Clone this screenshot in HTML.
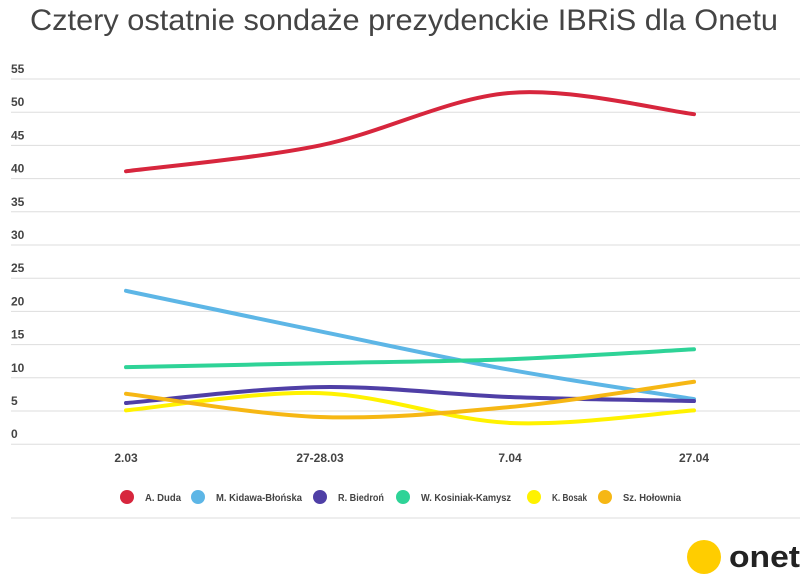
<!DOCTYPE html>
<html><head><meta charset="utf-8"><style>
body{margin:0;width:805px;height:579px;background:#fff;overflow:hidden;font-family:"Liberation Sans",sans-serif}
</style></head><body>
<svg id="s" width="805" height="579" xmlns="http://www.w3.org/2000/svg" font-family="Liberation Sans, sans-serif">
<text x="30" y="30" textLength="748" lengthAdjust="spacingAndGlyphs" font-size="30" fill="#444">Cztery ostatnie sondaże prezydenckie IBRiS dla Onetu</text>
<g id="grid"></g>
<g font-size="12" font-weight="bold" fill="#444" text-anchor="middle">
<text x="126" y="462">2.03</text><text x="320" y="462">27-28.03</text><text x="510" y="462">7.04</text><text x="694" y="462">27.04</text>
</g>
<g id="lines" fill="none" stroke-width="4" stroke-linecap="round"></g>
<line x1="11" y1="518" x2="800" y2="518" stroke="#ddd" stroke-width="1"/>
<g font-size="10" font-weight="bold" fill="#444">
<circle cx="127" cy="497" r="7" fill="#d7263d"/><text x="145" y="501" textLength="36" lengthAdjust="spacingAndGlyphs">A. Duda</text>
<circle cx="198" cy="497" r="7" fill="#5db6e6"/><text x="216" y="501" textLength="86" lengthAdjust="spacingAndGlyphs">M. Kidawa-Błońska</text>
<circle cx="320" cy="497" r="7" fill="#4f3fa6"/><text x="338" y="501" textLength="46" lengthAdjust="spacingAndGlyphs">R. Biedroń</text>
<circle cx="403" cy="497" r="7" fill="#2ed397"/><text x="421" y="501" textLength="90" lengthAdjust="spacingAndGlyphs">W. Kosiniak-Kamysz</text>
<circle cx="534" cy="497" r="7" fill="#fff200"/><text x="552" y="501" textLength="35" lengthAdjust="spacingAndGlyphs">K. Bosak</text>
<circle cx="605" cy="497" r="7" fill="#f6b714"/><text x="623" y="501" textLength="58" lengthAdjust="spacingAndGlyphs">Sz. Hołownia</text>
</g>
<circle cx="704" cy="557" r="17" fill="#ffcd00"/>
<text x="729" y="567" textLength="71" lengthAdjust="spacingAndGlyphs" font-size="31" font-weight="bold" fill="#222">onet</text>
</svg>
<script>
var ns="http://www.w3.org/2000/svg",g=document.getElementById("grid"),L=document.getElementById("lines");
function Y(v){return 79+(55-v)*6.64}
for(var v=0;v<=55;v+=5){var y=Y(v);var l=document.createElementNS(ns,"line");l.setAttribute("x1",11);l.setAttribute("x2",800);l.setAttribute("y1",y);l.setAttribute("y2",y);l.setAttribute("stroke","#ddd");g.appendChild(l);
var t=document.createElementNS(ns,"text");t.setAttribute("x",11);t.setAttribute("y",y-6);t.setAttribute("font-size","12");t.setAttribute("font-weight","bold");t.setAttribute("fill","#444");t.textContent=v;g.appendChild(t);}
var X=[126,320,510,694];
var S=[["#d7263d",[41.1,45,52.9,49.7]],["#5db6e6",[23.1,17,11.2,6.8]],["#2ed397",[11.6,12.2,12.8,14.3]],["#4f3fa6",[6.2,8.6,7.1,6.5]],["#fff200",[5.1,7.7,3.2,5.1]],["#f6b714",[7.6,4.1,5.6,9.4]]];
S.forEach(function(s){var p=X.map(function(x,i){return [x,Y(s[1][i])]});var d="M"+p[0];
for(var i=0;i<3;i++){var p0=p[Math.max(i-1,0)],p1=p[i],p2=p[i+1],p3=p[Math.min(i+2,3)];
var c1=[p1[0]+(p2[0]-p0[0])/6,p1[1]+(p2[1]-p0[1])/6],c2=[p2[0]-(p3[0]-p1[0])/6,p2[1]-(p3[1]-p1[1])/6];
d+=" C"+c1+" "+c2+" "+p2;}
var e=document.createElementNS(ns,"path");e.setAttribute("d",d);e.setAttribute("stroke",s[0]);L.appendChild(e);});
</script>
</body></html>
